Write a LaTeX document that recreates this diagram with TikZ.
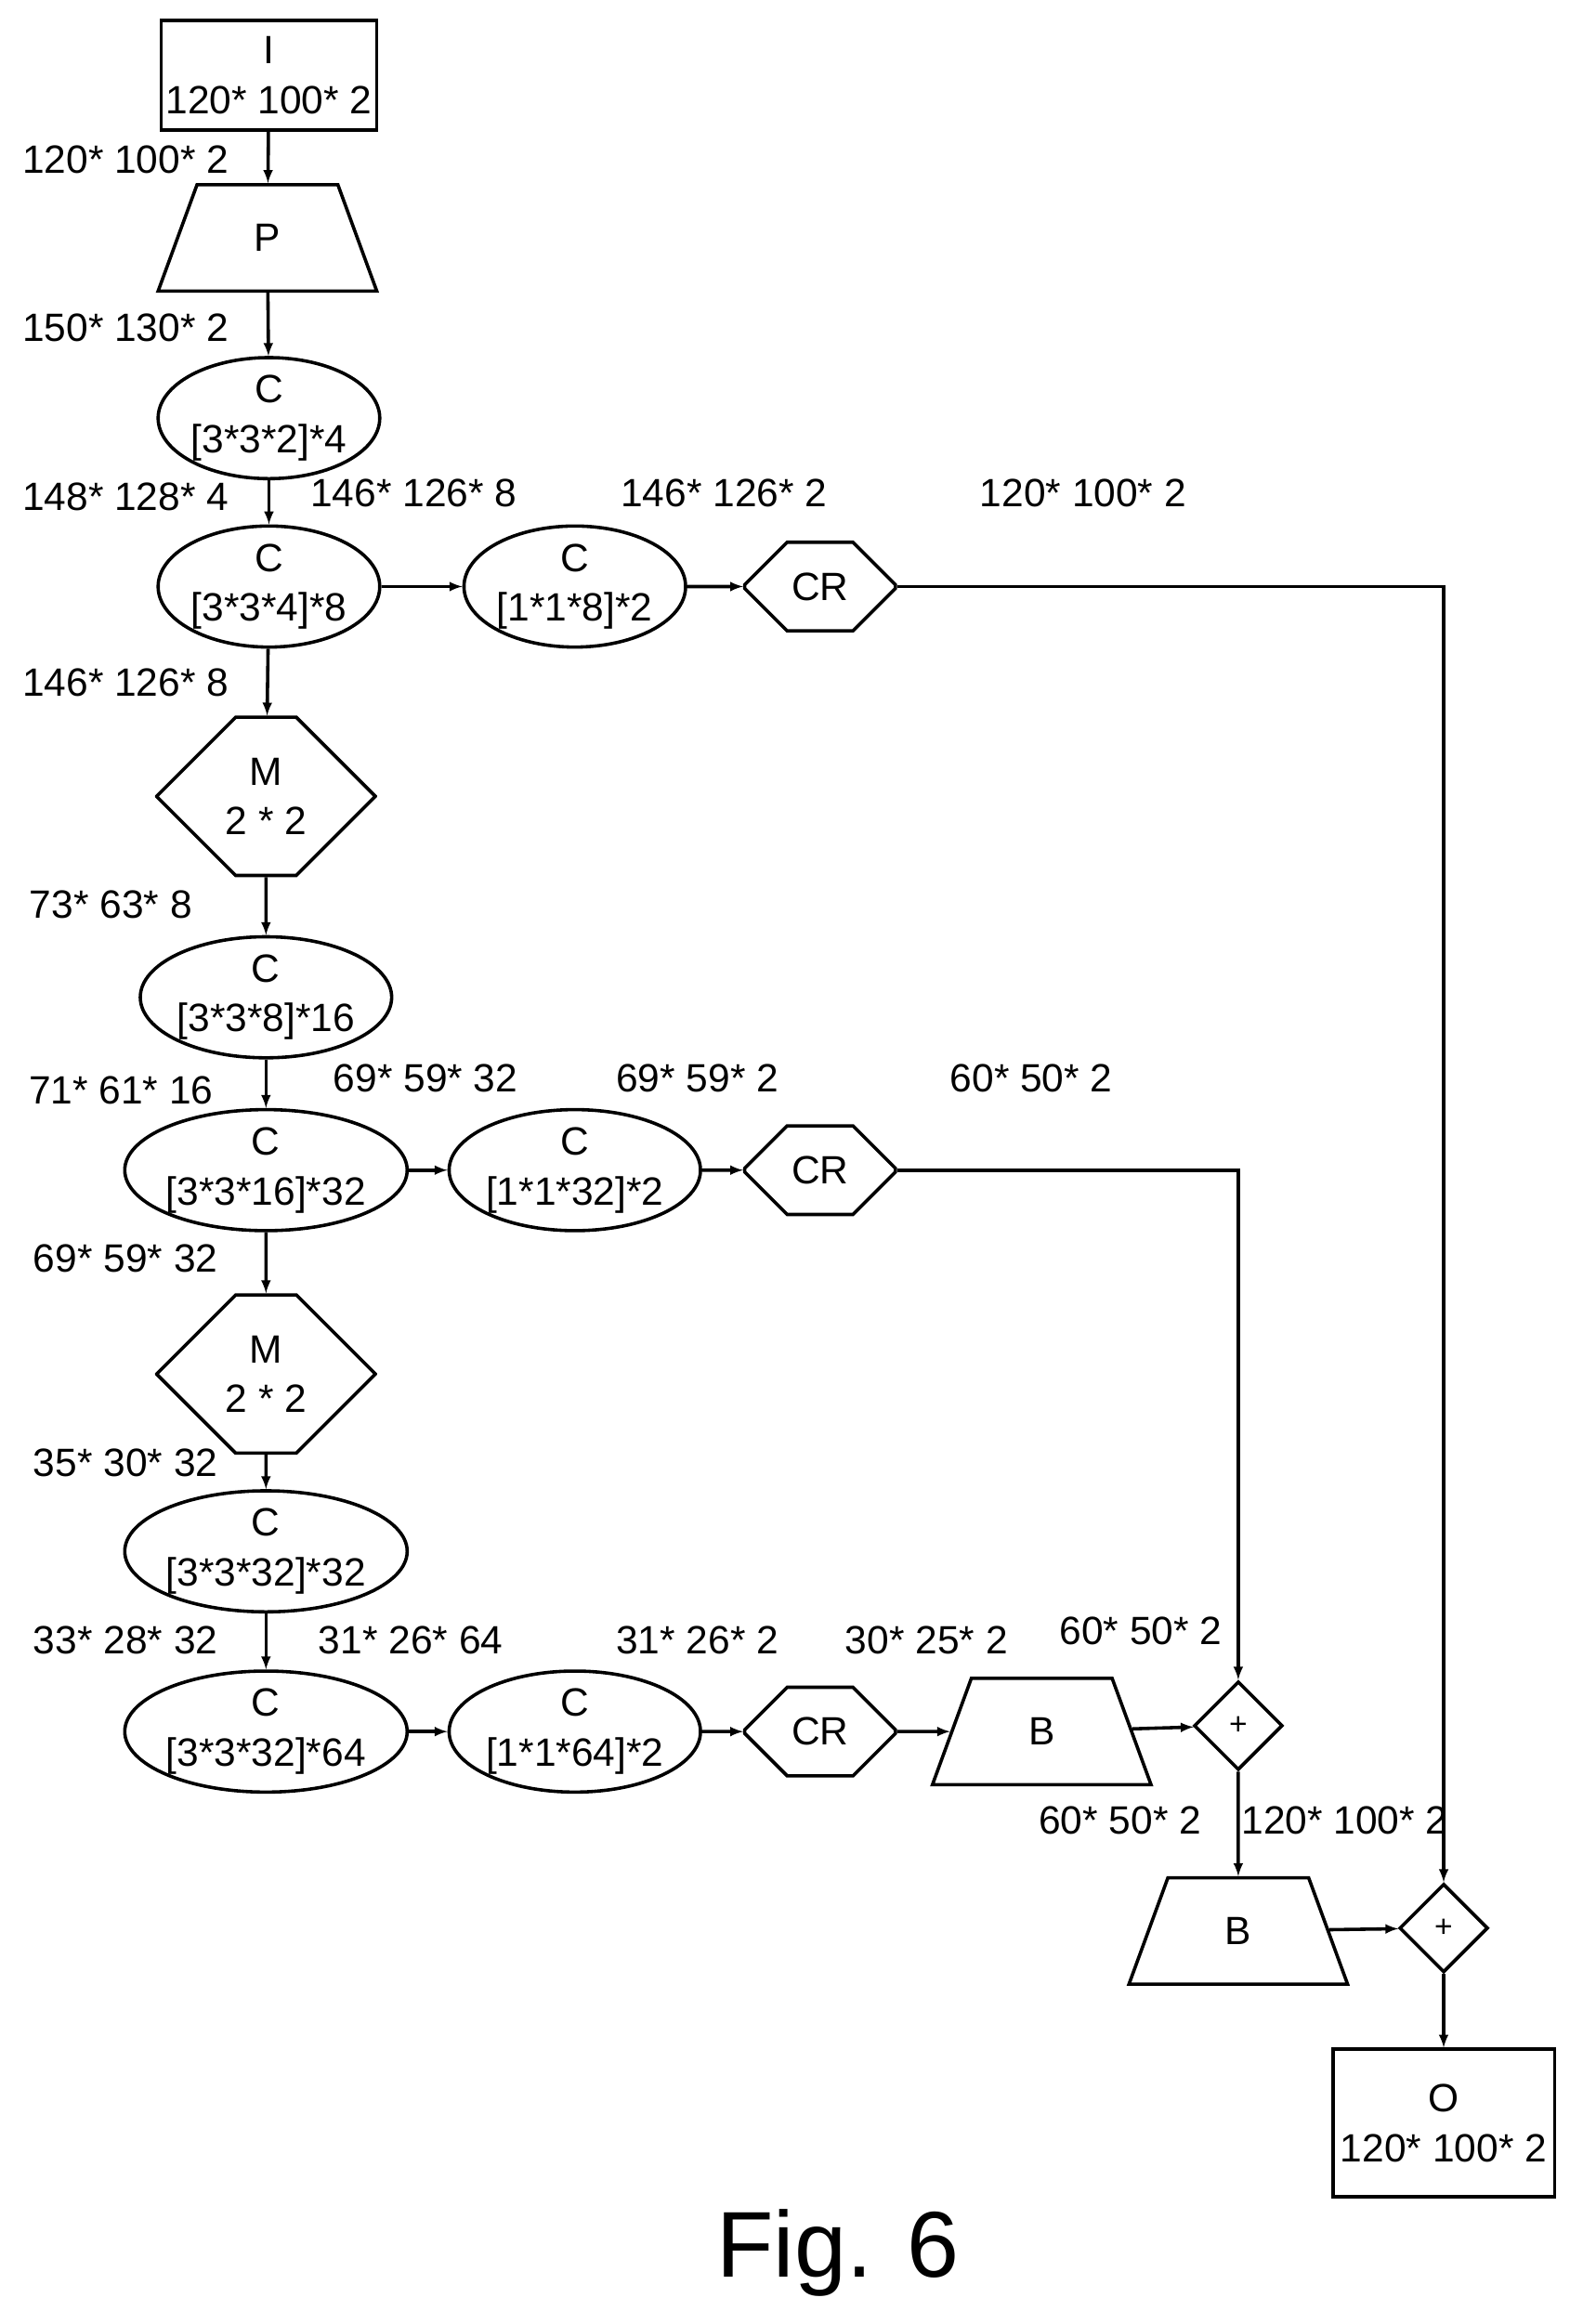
\documentclass[tikz,border=0pt]{standalone}
\usepackage{fontspec}
\setmainfont{Liberation Sans}
\usetikzlibrary{shapes.geometric,shapes.misc}
\tikzstyle{base} = [draw, line width=3.2pt, align=center, inner sep=0pt, font=\fontsize{38}{48}\selectfont]
\tikzstyle{cv} = [base, ellipse, minimum width=7.5cm, minimum height=3.8cm]
\tikzstyle{bx} = [base, rectangle, minimum width=7.3cm, minimum height=3.7cm]
\tikzstyle{tr} = [base, trapezium, trapezium left angle=75, trapezium right angle=75, trapezium stretches=true, minimum width=7.4cm, minimum height=3.6cm]
\tikzstyle{cr} = [base, chamfered rectangle, chamfered rectangle xsep=1.3cm, chamfered rectangle ysep=1.5cm, minimum width=5.1cm, minimum height=3cm]
\tikzstyle{mp} = [base, chamfered rectangle, chamfered rectangle xsep=1.3cm, chamfered rectangle ysep=2.45cm, minimum width=7.4cm, minimum height=4.9cm]
\tikzstyle{sum} = [base, diamond, minimum width=3cm, minimum height=3cm]
\tikzstyle{lbl} = [font=\fontsize{38}{48}\selectfont]
\tikzset{>=latex, every picture/.style={line width=3.2pt}}
\begin{document}
\begin{tikzpicture}[x=0.05cm, y=-0.05cm, arrows={-latex[scale=1.6]}]
\useasboundingbox (0,0) rectangle (1071,1573);
% main column
\node[bx] (in) at (182,51) {I\\120* 100* 2};
\node[tr] (pad) at (181,161) {P};
\node[cv] (c1) at (182,283) {C\\{[3*3*2]*4}};
\node[cv] (c2) at (182,397) {C\\{[3*3*4]*8}};
\node[mp] (m1) at (180,539) {M\\2 * 2};
\node[cv] (c3) at (180,675) {C\\{[3*3*8]*16}};
\node[cv] (c4) at (180,792) {C\\{[3*3*16]*32}};
\node[mp] (m2) at (180,930) {M\\2 * 2};
\node[cv] (c5) at (180,1050) {C\\{[3*3*32]*32}};
\node[cv] (c6) at (180,1172) {C\\{[3*3*32]*64}};
% side branches
\node[cv] (s1) at (389,397) {C\\{[1*1*8]*2}};
\node[cr] (cr1) at (555,397) {CR};
\node[cv] (s2) at (389,792) {C\\{[1*1*32]*2}};
\node[cr] (cr2) at (555,792) {CR};
\node[cv] (s3) at (389,1172) {C\\{[1*1*64]*2}};
\node[cr] (cr3) at (555,1172) {CR};
\node[tr] (b1) at (705,1172) {B};
\node[sum, font=\fontsize{30}{36}\selectfont] (add1) at (838,1168) {+};
\node[tr] (b2) at (838,1307) {B};
\node[sum, font=\fontsize{30}{36}\selectfont] (add2) at (977,1305) {+};
\node[bx, minimum width=7.5cm, minimum height=5cm] (out) at (977,1437) {O\\120* 100* 2};
% labels
\node[lbl] at (85,108) {120* 100* 2};
\node[lbl] at (85,222) {150* 130* 2};
\node[lbl] at (85,336) {148* 128* 4};
\node[lbl] at (280,334) {146* 126* 8};
\node[lbl] at (490,334) {146* 126* 2};
\node[lbl] at (733,334) {120* 100* 2};
\node[lbl] at (85,462) {146* 126* 8};
\node[lbl] at (75,612) {73* 63* 8};
\node[lbl] at (82,738) {71* 61* 16};
\node[lbl] at (288,730) {69* 59* 32};
\node[lbl] at (472,730) {69* 59* 2};
\node[lbl] at (698,730) {60* 50* 2};
\node[lbl] at (85,852) {69* 59* 32};
\node[lbl] at (85,990) {35* 30* 32};
\node[lbl] at (85,1110) {33* 28* 32};
\node[lbl] at (278,1110) {31* 26* 64};
\node[lbl] at (472,1110) {31* 26* 2};
\node[lbl] at (627,1110) {30* 25* 2};
\node[lbl] at (772,1104) {60* 50* 2};
\node[lbl] at (758,1232) {60* 50* 2};
\node[lbl] at (910,1232) {120* 100* 2};
\node[font=\fontsize{90}{100}\selectfont] (fig) at (567,1525) {Fig. 6};
% connectors
\draw[->] (in) -- (pad);
\draw[->] (pad) -- (c1);
\draw[->] (c1) -- (c2);
\draw[->] (c2) -- (m1);
\draw[->] (m1) -- (c3);
\draw[->] (c3) -- (c4);
\draw[->] (c4) -- (m2);
\draw[->] (m2) -- (c5);
\draw[->] (c5) -- (c6);
\draw[->] (c2) -- (s1);
\draw[->] (s1) -- (cr1);
\draw[->] (c4) -- (s2);
\draw[->] (s2) -- (cr2);
\draw[->] (c6) -- (s3);
\draw[->] (s3) -- (cr3);
\draw[->] (cr3) -- (b1);
\draw[->] (b1) -- (add1);
\draw[->] (cr2) -| (add1);
\draw[->] (add1) -- (b2);
\draw[->] (b2) -- (add2);
\draw[->] (cr1) -| (add2);
\draw[->] (add2) -- (out);
\end{tikzpicture}
\end{document}
